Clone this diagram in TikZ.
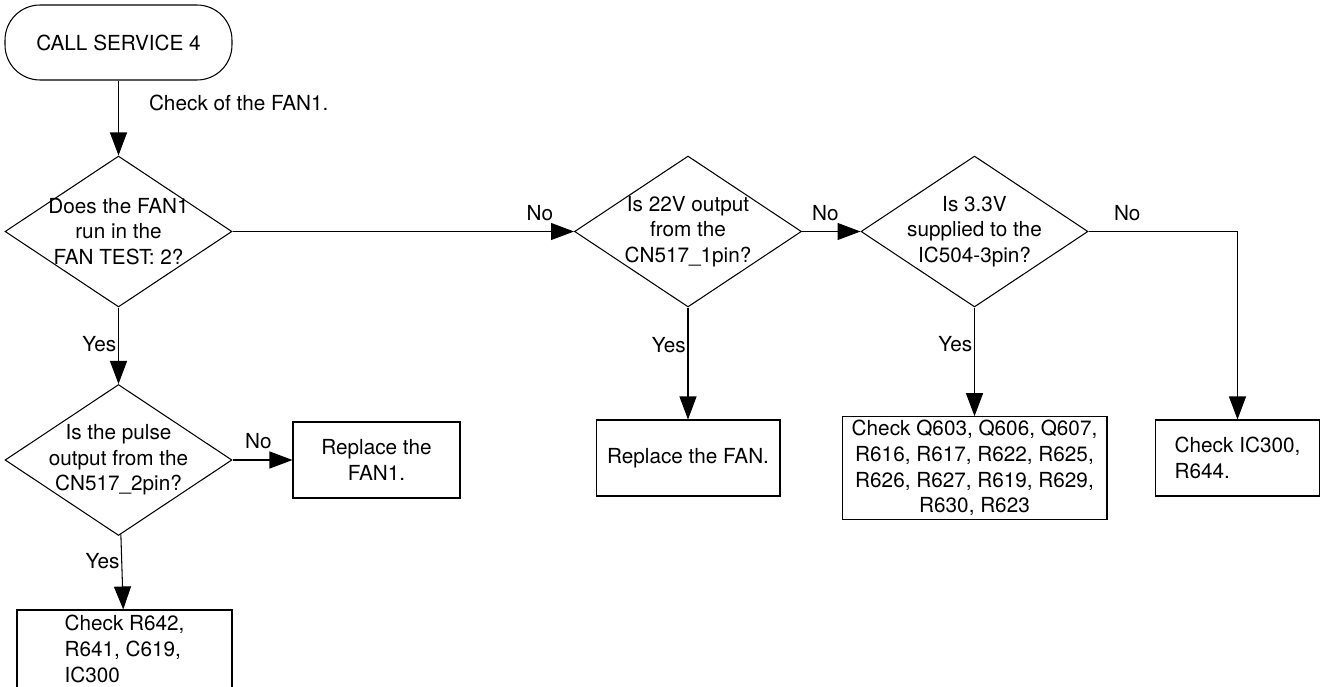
\documentclass[tikz,border=0pt]{standalone}
\usepackage{fontspec}
\setmainfont{TeX Gyre Heros}
\usepackage{tikz}
\usetikzlibrary{shapes.geometric, arrows.meta, positioning, calc}

\begin{document}
\begin{tikzpicture}[x=0.02cm, y=-0.02cm,
  txt/.style  = {font=\fontsize{11.8}{14.6}\selectfont},
  term/.style = {rectangle, draw, line width=0.6pt, rounded corners=0.7cm,
                 minimum width=4.54cm, minimum height=1.5cm, txt},
  dec/.style  = {diamond, draw, line width=0.6pt, inner sep=0pt,
                 minimum width=4.54cm, minimum height=3.02cm},
  dtxt/.style = {txt, align=center, inner sep=0pt},
  act/.style  = {rectangle, draw, line width=0.6pt, txt, align=center, inner sep=2pt},
  arr/.style  = {-{Triangle[length=0.46cm, width=0.34cm]}, line width=0.6pt},
  lbl/.style  = {txt, inner sep=0pt},
]
  \useasboundingbox (0,0) rectangle (1321,686);
  \clip (0,0) rectangle (1321,686);

  \node[term] (start) at (118.5,42.5) {CALL SERVICE 4};

  \node[dec]  (fanrun)   at (118.5,231.5) {};
  \node[dtxt] (fanrun-t) at (fanrun) {Does the FAN1\\run in the\\FAN TEST: 2?};
  \node[dec]  (pulse)    at (118.5,460) {};
  \node[dtxt] (pulse-t)  at (pulse) {Is the pulse\\output from the\\CN517\_2pin?};
  \node[dec]  (out22)    at (688,231.5) {};
  \node[dtxt] (out22-t)  at (out22) {Is 22V output\\from the\\CN517\_1pin?};
  \node[dec]  (sup33)    at (974.5,231.5) {};
  \node[dtxt] (sup33-t)  at (sup33) {Is 3.3V\\supplied to the\\IC504-3pin?};

  \node[act, minimum width=3.34cm, minimum height=1.52cm] (replfan1) at (376.5,460) {Replace the\\FAN1.};
  \node[act, minimum width=3.68cm, minimum height=1.52cm] (replfan)  at (688,458) {Replace the FAN.};
  \node[act, minimum width=5.3cm,  minimum height=1.92cm] (checkq)   at (974.5,468)
    {Check Q603, Q606, Q607,\\R616, R617, R622, R625,\\R626, R627, R619, R629,\\R630, R623};
  \node[act, align=left, minimum width=3.28cm, minimum height=1.52cm] (checkic) at (1237.5,458) {Check IC300,\\R644.};
  \node[act, align=left, minimum width=4.3cm, minimum height=1.56cm] (checkr) at (124.5,649) {Check R642,\\R641, C619,\\IC300};

  \draw[arr] (start) -- node[lbl, pos=0.3, right=0.6cm] {Check of the FAN1.} (fanrun);
  \draw[arr] (fanrun) -- node[lbl, pos=0.9, above=0.21cm] {No} (out22);
  \draw[arr] (out22) -- node[lbl, pos=0.4, above=0.21cm] {No} (sup33);
  \draw[arr] (sup33) -| node[lbl, pos=0.13, above=0.21cm] {No} (checkic);
  \draw[arr] (fanrun) -- node[lbl, pos=0.48, left=1pt] {Yes} (pulse);
  \draw[arr] (out22) -- node[lbl, pos=0.34, left=1pt] {Yes} (replfan);
  \draw[arr] (sup33) -- node[lbl, pos=0.34, left=1pt] {Yes} (checkq);
  \draw[arr] (pulse) -- node[lbl, pos=0.43, above=0.21cm] {No} (replfan1);
  \draw[arr] (pulse) -- node[lbl, pos=0.36, left=1pt] {Yes} (checkr);
\end{tikzpicture}
\end{document}
